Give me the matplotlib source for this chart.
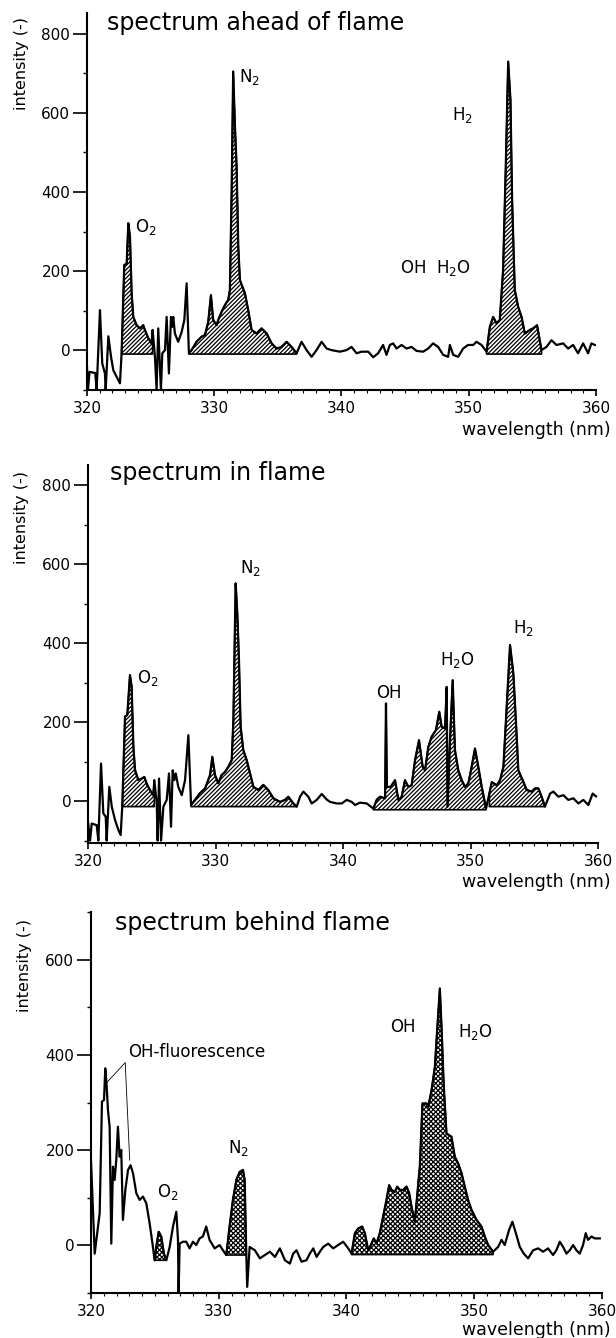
#Librerías necesarias
import numpy as np
import matplotlib
matplotlib.use('Agg')
import matplotlib.pyplot as plt
from matplotlib.ticker import MultipleLocator

plt.rcParams['font.family'] = ['DejaVu Sans']
plt.rcParams['mathtext.default'] = 'regular'
plt.rcParams['hatch.linewidth'] = 0.9

# Espectro delante de la llama (longitud de onda en nm, intensidad)
onda_delante = [320.00, 320.08, 320.20, 320.65, 320.76, 321.02, 321.20, 321.41, 321.47, 321.68,
                321.89, 322.07, 322.46, 322.59, 322.72, 322.93, 323.12, 323.25, 323.38, 323.51,
                323.64, 323.90, 324.16, 324.42, 324.61, 324.82, 325.08, 325.16, 325.34, 325.47,
                325.60, 325.81, 325.92, 326.13, 326.26, 326.44, 326.60, 326.70, 326.78, 326.91,
                327.17, 327.44, 327.65, 327.83, 328.01, 328.22, 328.61, 329.01, 329.27, 329.53,
                329.74, 329.92, 330.19, 330.31, 330.58, 330.84, 331.10, 331.23, 331.37, 331.49,
                331.63, 331.76, 331.89, 332.02, 332.41, 332.67, 332.94, 333.33, 333.72, 334.12,
                334.51, 334.90, 335.29, 335.69, 336.08, 336.47, 336.86, 337.26, 337.65, 338.04,
                338.44, 338.83, 339.22, 339.87, 340.40, 340.79, 341.19, 341.58, 342.10, 342.49,
                342.88, 343.27, 343.54, 343.80, 344.06, 344.33, 344.72, 345.11, 345.51, 345.90,
                346.42, 346.81, 347.20, 347.60, 347.99, 348.38, 348.52, 348.78, 349.17, 349.56,
                349.95, 350.35, 350.61, 351.00, 351.40, 351.66, 351.92, 352.18, 352.44, 352.70,
                352.91, 353.10, 353.28, 353.41, 353.62, 353.88, 354.15, 354.41, 354.80, 355.06,
                355.37, 355.72, 356.11, 356.50, 356.90, 357.42, 357.81, 358.20, 358.59, 358.99,
                359.38, 359.64, 359.91]
int_delante = [-42, -100, -55, -58, -100, 101, -34, -59, -100, 35,
               -17, -51, -76, -84, -8, 215, 219, 321, 287, 144,
               84, 63, 55, 63, 46, 30, 17, 51, -17, -100,
               55, -100, -8, 0, 84, -59, 84, 59, 84, 42,
               21, 46, 76, 169, -8, 0, 21, 34, 38, 72,
               139, 76, 63, 76, 97, 114, 127, 152, 405, 705,
               565, 464, 262, 177, 144, 101, 51, 42, 55, 42,
               17, 4, 8, 21, 8, -8, 21, 0, -17, 0,
               21, 4, 0, -4, 0, 8, -8, -4, -4, -18,
               -8, 13, -12, 13, 17, 4, 13, 4, 8, -2,
               -4, 4, 17, 8, -12, -17, 13, -12, -17, 4,
               13, 13, 21, 13, -4, 59, 84, 68, 76, 203,
               464, 730, 633, 380, 152, 110, 84, 42, 51, 55,
               63, 0, 8, 25, 13, 17, 4, 13, -8, 17,
               -8, 17, 13]
zonas_delante = [(322.72, 325.16, -10), (328.01, 336.47, -10), (351.40, 355.72, -10)]

# Espectro en la llama
onda_en = [320.00, 320.16, 320.29, 320.68, 320.81, 321.02, 321.20, 321.39, 321.46, 321.67,
           321.86, 322.12, 322.38, 322.56, 322.69, 322.90, 323.08, 323.29, 323.42, 323.56,
           323.69, 323.95, 324.21, 324.42, 324.60, 324.86, 325.12, 325.20, 325.39, 325.46,
           325.57, 325.73, 325.91, 326.17, 326.35, 326.51, 326.64, 326.77, 326.88, 327.08,
           327.35, 327.61, 327.87, 328.08, 328.39, 328.78, 329.18, 329.57, 329.75, 329.96,
           330.22, 330.48, 330.75, 331.01, 331.27, 331.40, 331.48, 331.58, 331.71, 331.84,
           331.97, 332.18, 332.44, 332.71, 332.97, 333.36, 333.75, 334.14, 334.54, 335.06,
           335.45, 335.71, 336.10, 336.37, 336.63, 336.89, 337.28, 337.54, 337.94, 338.33,
           338.72, 338.98, 339.50, 339.90, 340.29, 340.68, 340.94, 341.33, 341.86, 342.38,
           342.64, 342.90, 343.30, 343.37, 343.44, 343.74, 344.08, 344.34, 344.60, 344.86,
           345.12, 345.38, 345.65, 345.96, 346.25, 346.43, 346.69, 346.95, 347.29, 347.55,
           347.74, 348.00, 348.13, 348.20, 348.39, 348.60, 348.78, 349.04, 349.31, 349.57,
           349.83, 350.09, 350.35, 350.61, 350.88, 351.22, 351.48, 351.67, 352.06, 352.32,
           352.58, 352.84, 353.10, 353.36, 353.57, 353.75, 354.09, 354.41, 354.80, 355.06,
           355.32, 355.58, 355.84, 356.24, 356.50, 356.89, 357.28, 357.67, 358.07, 358.46,
           358.85, 359.24, 359.58, 359.84]
int_en = [-52, -100, -57, -61, -100, 95, -31, -40, -100, 36,
          -14, -48, -73, -86, -10, 214, 218, 319, 290, 137,
          78, 53, 57, 61, 44, 28, 15, 53, -6, -100,
          57, -100, -14, 3, 70, -65, 78, 53, 70, 36,
          15, 53, 167, -10, 3, 20, 32, 66, 112, 66,
          45, 66, 74, 87, 104, 205, 365, 551, 475, 357,
          188, 129, 104, 70, 36, 28, 41, 28, 7, -2,
          3, 11, -6, -14, 11, 24, 11, -6, 3, 18,
          4, -2, -6, -6, 3, -2, -10, -4, -6, -19,
          3, 11, 7, 247, 36, 36, 53, 3, 11, 53,
          36, 40, 104, 154, 87, 78, 137, 163, 180, 226,
          188, 184, 289, -14, 154, 306, 129, 78, 53, 36,
          45, 87, 133, 87, 36, -19, 19, 48, 40, 53,
          87, 239, 395, 323, 197, 78, 53, 28, 24, 32,
          32, 11, -14, 19, 24, 11, 15, 3, 7, -6,
          3, -10, 19, 12]
zonas_en = [(322.69, 325.20, -14), (328.08, 336.37, -14), (342.38, 351.22, -22), (351.48, 355.84, -14)]

# Espectro detrás de la llama
onda_detras = [320.00, 320.29, 320.42, 320.68, 320.86, 321.02, 321.12, 321.23, 321.33, 321.46,
               321.59, 321.72, 321.85, 321.98, 322.11, 322.24, 322.37, 322.50, 322.69, 322.90,
               323.10, 323.29, 323.55, 323.81, 324.07, 324.33, 324.59, 324.85, 324.98, 325.11,
               325.30, 325.50, 325.71, 325.90, 326.16, 326.42, 326.68, 326.81, 326.86, 326.94,
               327.20, 327.46, 327.72, 327.98, 328.24, 328.50, 328.76, 329.02, 329.28, 329.68,
               330.07, 330.33, 330.59, 330.85, 331.11, 331.38, 331.64, 331.90, 332.03, 332.16,
               332.23, 332.42, 332.83, 333.22, 333.62, 334.01, 334.40, 334.79, 335.18, 335.57,
               335.83, 336.09, 336.48, 336.87, 337.13, 337.40, 337.66, 337.92, 338.18, 338.57,
               338.96, 339.35, 339.74, 340.14, 340.40, 340.66, 340.92, 341.23, 341.44, 341.70,
               341.96, 342.14, 342.35, 342.61, 342.87, 343.13, 343.34, 343.53, 343.79, 343.97,
               344.18, 344.44, 344.70, 344.91, 345.09, 345.35, 345.53, 345.74, 345.95, 346.14,
               346.27, 346.40, 346.66, 346.92, 347.10, 347.31, 347.44, 347.62, 347.83, 348.04,
               348.22, 348.48, 348.74, 349.01, 349.26, 349.52, 349.79, 350.18, 350.57, 350.83,
               351.09, 351.48, 351.87, 352.14, 352.39, 352.73, 352.99, 353.26, 353.57, 353.88,
               354.22, 354.61, 355.00, 355.39, 355.78, 356.17, 356.43, 356.70, 356.96, 357.22,
               357.48, 357.74, 358.00, 358.26, 358.52, 358.73, 358.91, 359.18, 359.44, 359.83]
int_detras = [179, -18, 10, 67, 302, 305, 372, 333, 284, 249,
              3, 165, 137, 179, 249, 186, 200, 53, 116, 158,
              168, 151, 109, 95, 102, 88, 46, -4, -32, -4,
              28, 18, -18, -32, -4, 39, 70, 11, -100, 3,
              7, 7, -7, 7, 0, 14, 18, 39, 11, -7,
              0, -11, -21, 39, 95, 137, 154, 158, 137, -21,
              -88, -4, -11, -28, -21, -14, -25, -7, -32, -39,
              -18, -11, -35, -32, -18, -7, -25, -14, -4, 3,
              -7, 0, 7, -7, -18, 25, 35, 39, 25, -11,
              3, 14, 3, 25, 60, 95, 126, 116, 112, 123,
              116, 116, 123, 109, 81, 49, 102, 165, 298, 298,
              298, 291, 326, 375, 453, 540, 460, 333, 235, 231,
              228, 186, 172, 151, 123, 95, 74, 53, 39, 18,
              0, -14, -4, 11, 0, 32, 49, 25, -4, -18,
              -28, -11, -7, -14, -7, -21, -11, 7, -4, -18,
              -11, 0, -11, -18, 0, 25, 11, 18, 14, 14]
zonas_detras = [(324.98, 325.90, -32), (330.59, 332.16, -21), (340.40, 351.48, -20)]

# Posiciones de los ejes (fracción de la figura) y límites de cada panel
paneles = [
    dict(x=onda_delante, y=int_delante, zonas=zonas_delante, trama='////////',
         pos=[0.1412, 0.7085, 0.8263, 0.2818], ylim=(-101, 853), ytop=800,
         titulo='spectrum ahead of flame', tpos=(321.57, 828),
         etiquetas=[(323.77, 311, r'O$_2$'), (331.94, 691, r'N$_2$'),
                    (348.65, 595, r'H$_2$'), (344.59, 207, r'OH  H$_2$O')],
         ylab=(22, 64), xlab=(611, 430)),
    dict(x=onda_en, y=int_en, zonas=zonas_en, trama='////////',
         pos=[0.1429, 0.3700, 0.8279, 0.2825], ylim=(-106, 851), ytop=800,
         titulo='spectrum in flame', tpos=(321.73, 830),
         etiquetas=[(323.84, 311, r'O$_2$'), (331.92, 590, r'N$_2$'),
                    (342.59, 273, 'OH'), (347.60, 357, r'H$_2$O'), (353.33, 438, r'H$_2$')],
         ylab=(22, 517), xlab=(611, 882)),
    dict(x=onda_detras, y=int_detras, zonas=zonas_detras, trama='xxxxxxx',
         pos=[0.1477, 0.0336, 0.8295, 0.2848], ylim=(-101, 701), ytop=600,
         titulo='spectrum behind flame', tpos=(321.88, 678),
         etiquetas=[(325.16, 112, r'O$_2$'), (330.72, 204, r'N$_2$'),
                    (343.40, 459, 'OH'), (348.70, 448, r'H$_2$O')],
         ylab=(25, 965), xlab=(611, 1330)),
]

fig = plt.figure(figsize=(6.16, 13.38), dpi=100, facecolor='white')

for p in paneles:
    ax = fig.add_axes(p['pos'])
    x = np.array(p['x'])
    y = np.array(p['y'])

    # Zonas sombreadas bajo los picos
    for a, b, base in p['zonas']:
        m = (x >= a - 1e-6) & (x <= b + 1e-6)
        ax.fill_between(x[m], y[m], base, facecolor='white', edgecolor='black',
                        hatch=p['trama'], lw=1.2, zorder=2)
    ax.plot(x, y, color='black', lw=1.6, zorder=3)

    ax.set_xlim(320, 360)
    ax.set_ylim(*p['ylim'])
    for lado in ('top', 'right'):
        ax.spines[lado].set_visible(False)
    for lado in ('left', 'bottom'):
        ax.spines[lado].set_linewidth(1.5)

    ax.set_xticks([320, 330, 340, 350, 360])
    ax.xaxis.set_minor_locator(MultipleLocator(1))
    ax.set_yticks(np.arange(0, p['ytop'] + 1, 200))
    ax.yaxis.set_minor_locator(MultipleLocator(100))
    ax.tick_params(axis='y', which='major', length=10, width=1.2, pad=2, labelsize=11)
    ax.tick_params(axis='y', which='minor', length=3, width=1.0)
    ax.tick_params(axis='x', which='major', length=4, width=1.2, pad=4, labelsize=11)
    ax.tick_params(axis='x', which='minor', length=2, width=0.8)

    ax.text(p['tpos'][0], p['tpos'][1], p['titulo'], fontsize=17, va='center', ha='left')
    for ex, ey, txt in p['etiquetas']:
        ax.text(ex, ey, txt, fontsize=12, va='center', ha='left')

    fig.text(p['ylab'][0] / 616, 1 - p['ylab'][1] / 1338, 'intensity (-)', rotation=90,
             ha='center', va='center', fontsize=11.5)
    fig.text(p['xlab'][0] / 616, 1 - p['xlab'][1] / 1338, 'wavelength (nm)',
             ha='right', va='center', fontsize=12.5)

    if p['titulo'] == 'spectrum behind flame':
        # Anotación de la fluorescencia de OH
        ax.plot([321.2, 322.68, 323.03], [341, 384, 179], color='black', lw=0.6, zorder=4)
        ax.text(322.9, 406, 'OH-fluorescence', fontsize=12, va='center', ha='left')

fig.savefig('out.png', dpi=100, facecolor='white')
